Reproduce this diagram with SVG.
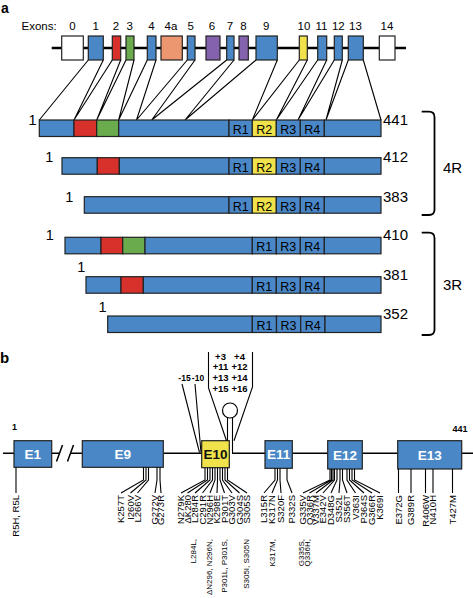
<svg xmlns="http://www.w3.org/2000/svg" width="473" height="598" viewBox="0 0 473 598">
<style>
text{font-family:"Liberation Sans",Arial,Helvetica,sans-serif;fill:#000}
.bx{stroke:#222;stroke-width:1.2}
.blue{fill:#4a87c7}.red{fill:#d8302a}.green{fill:#6aab4e}.yellow{fill:#f0e24a}.orange{fill:#ec9770}.purple{fill:#8562ad}.white{fill:#fff}
.ln{stroke:#000;stroke-width:1.1;fill:none}
.thick{stroke:#000;stroke-width:2.6;fill:none}
.main{stroke:#000;stroke-width:1.5;fill:none}
.ex{font-size:11.5px;text-anchor:middle}
.big{font-size:15px}
.one{font-size:14.5px;text-anchor:middle}
.rr{font-size:12.5px;text-anchor:middle}
.bl{font-size:13.5px;font-weight:bold;text-anchor:middle;fill:#fff}
.mut{font-size:9.5px;text-anchor:end}
.mut2{font-size:8px;text-anchor:end}
.pl{font-size:9.5px;font-weight:bold;text-anchor:middle}
.pan{font-size:14px;font-weight:bold}
</style>

<!-- ===== Panel a ===== -->
<text class="pan" x="1" y="13">a</text>
<g id="exon-labels">
<text x="21.5" y="30" style="font-size:11.5px">Exons:</text>
<text class="ex" x="72.5" y="30">0</text>
<text class="ex" x="95.8" y="30">1</text>
<text class="ex" x="116" y="30">2</text>
<text class="ex" x="129.8" y="30">3</text>
<text class="ex" x="151.5" y="30">4</text>
<text class="ex" x="171" y="30">4a</text>
<text class="ex" x="190.8" y="30">5</text>
<text class="ex" x="212" y="30">6</text>
<text class="ex" x="230" y="30">7</text>
<text class="ex" x="243.5" y="30">8</text>
<text class="ex" x="266.3" y="30">9</text>
<text class="ex" x="304" y="30">10</text>
<text class="ex" x="321.5" y="30">11</text>
<text class="ex" x="338.3" y="30">12</text>
<text class="ex" x="355.5" y="30">13</text>
<text class="ex" x="387" y="30">14</text>
</g>
<line class="thick" x1="51.7" y1="48" x2="406" y2="48"/>
<g id="exon-0"><rect class="bx white" x="61.7" y="36" width="21.6" height="24"/></g>
<g id="exon-1"><rect class="bx blue" x="88.3" y="36" width="15" height="24"/></g>
<g id="exon-2"><rect class="bx red" x="112.3" y="36" width="8.4" height="24"/></g>
<g id="exon-3"><rect class="bx green" x="126" y="36" width="8" height="24"/></g>
<g id="exon-4"><rect class="bx blue" x="147.3" y="36" width="8.7" height="24"/></g>
<g id="exon-4a"><rect class="bx orange" x="161" y="36" width="21.3" height="24"/></g>
<g id="exon-5"><rect class="bx blue" x="187.3" y="36" width="7.7" height="24"/></g>
<g id="exon-6"><rect class="bx purple" x="206" y="36" width="14" height="24"/></g>
<g id="exon-7"><rect class="bx blue" x="226.7" y="36" width="7.3" height="24"/></g>
<g id="exon-8"><rect class="bx purple" x="239" y="36" width="9.3" height="24"/></g>
<g id="exon-9"><rect class="bx blue" x="256" y="36" width="21.3" height="24"/></g>
<g id="exon-10"><rect class="bx yellow" x="299.3" y="36" width="8" height="24"/></g>
<g id="exon-11"><rect class="bx blue" x="317.7" y="36" width="9" height="24"/></g>
<g id="exon-12"><rect class="bx blue" x="334.3" y="36" width="8" height="24"/></g>
<g id="exon-13"><rect class="bx blue" x="348.3" y="36" width="15" height="24"/></g>
<g id="exon-14"><rect class="bx white" x="379.3" y="36" width="15.7" height="24"/></g>

<g id="exon-connectors">
<path class="ln" d="M88.3,60L39.3,120M103.3,60L74,120M112.3,60L74,120M120.7,60L96.7,120M126,60L96.7,120M134,60L118.7,120M147.3,60L118.7,120M156,60L136.5,120M187.3,60L136.5,120M195,60L151.7,120M226.7,60L151.7,120M234,60L185,120M256,60L185,120M277.3,60L252.3,120M299.3,60L252.3,120M307.3,60L276.3,120M317.7,60L276.3,120M326.7,60L298,120M334.3,60L298,120M342.3,60L326,120M348.3,60L326,120M363.3,60L381,120"/>
</g>

<g id="isoform-441">
<rect class="bx blue" x="39.3" y="120" width="34.7" height="16.5"/>
<rect class="bx red" x="74" y="120" width="22.7" height="16.5"/>
<rect class="bx green" x="96.7" y="120" width="22" height="16.5"/>
<rect class="bx blue" x="118.7" y="120" width="110.3" height="16.5"/>
<rect class="bx blue" x="229" y="120" width="23.3" height="16.5"/>
<rect class="bx yellow" x="252.3" y="120" width="24" height="16.5"/>
<rect class="bx blue" x="276.3" y="120" width="24" height="16.5"/>
<rect class="bx blue" x="300.3" y="120" width="24" height="16.5"/>
<rect class="bx blue" x="324.3" y="120" width="56.7" height="16.5"/>
<text class="rr" x="240.7" y="134">R1</text><text class="rr" x="264.3" y="134">R2</text><text class="rr" x="288.3" y="134">R3</text><text class="rr" x="312.3" y="134">R4</text>
<text class="one" x="32.5" y="125">1</text>
<text class="big" x="383" y="125">441</text>
</g>

<g id="isoform-412">
<rect class="bx blue" x="62" y="157.7" width="35.3" height="16.5"/>
<rect class="bx red" x="97.3" y="157.7" width="22" height="16.5"/>
<rect class="bx blue" x="119.3" y="157.7" width="109.7" height="16.5"/>
<rect class="bx blue" x="229" y="157.7" width="23.3" height="16.5"/>
<rect class="bx yellow" x="252.3" y="157.7" width="24" height="16.5"/>
<rect class="bx blue" x="276.3" y="157.7" width="24" height="16.5"/>
<rect class="bx blue" x="300.3" y="157.7" width="24" height="16.5"/>
<rect class="bx blue" x="324.3" y="157.7" width="56.7" height="16.5"/>
<text class="rr" x="240.7" y="171.7">R1</text><text class="rr" x="264.3" y="171.7">R2</text><text class="rr" x="288.3" y="171.7">R3</text><text class="rr" x="312.3" y="171.7">R4</text>
<text class="one" x="49.2" y="161.7">1</text>
<text class="big" x="383" y="161.7">412</text>
</g>

<g id="isoform-383">
<rect class="bx blue" x="84.3" y="196.7" width="144.7" height="16.5"/>
<rect class="bx blue" x="229" y="196.7" width="23.3" height="16.5"/>
<rect class="bx yellow" x="252.3" y="196.7" width="24" height="16.5"/>
<rect class="bx blue" x="276.3" y="196.7" width="24" height="16.5"/>
<rect class="bx blue" x="300.3" y="196.7" width="24" height="16.5"/>
<rect class="bx blue" x="324.3" y="196.7" width="56.7" height="16.5"/>
<text class="rr" x="240.7" y="210.7">R1</text><text class="rr" x="264.3" y="210.7">R2</text><text class="rr" x="288.3" y="210.7">R3</text><text class="rr" x="312.3" y="210.7">R4</text>
<text class="one" x="69.2" y="201.7">1</text>
<text class="big" x="383" y="201.7">383</text>
</g>

<g id="bracket-4R">
<path d="M421.7,111.7H429Q434.5,111.7 434.5,117.2V209.5Q434.5,215 429,215H421.7" fill="none" stroke="#000" stroke-width="1.8"/>
<text class="big" x="443" y="173">4R</text>
</g>

<g id="isoform-410">
<rect class="bx blue" x="65" y="237.3" width="36" height="16.5"/>
<rect class="bx red" x="101" y="237.3" width="21.7" height="16.5"/>
<rect class="bx green" x="122.7" y="237.3" width="22.3" height="16.5"/>
<rect class="bx blue" x="145" y="237.3" width="107.3" height="16.5"/>
<rect class="bx blue" x="252.3" y="237.3" width="24" height="16.5"/>
<rect class="bx blue" x="276.3" y="237.3" width="24" height="16.5"/>
<rect class="bx blue" x="300.3" y="237.3" width="24" height="16.5"/>
<rect class="bx blue" x="324.3" y="237.3" width="56.7" height="16.5"/>
<text class="rr" x="264.3" y="251.3">R1</text><text class="rr" x="288.3" y="251.3">R3</text><text class="rr" x="312.3" y="251.3">R4</text>
<text class="one" x="49.7" y="240">1</text>
<text class="big" x="383" y="240">410</text>
</g>

<g id="isoform-381">
<rect class="bx blue" x="86" y="276.7" width="35" height="16.5"/>
<rect class="bx red" x="121" y="276.7" width="22.3" height="16.5"/>
<rect class="bx blue" x="143.3" y="276.7" width="109" height="16.5"/>
<rect class="bx blue" x="252.3" y="276.7" width="24" height="16.5"/>
<rect class="bx blue" x="276.3" y="276.7" width="24" height="16.5"/>
<rect class="bx blue" x="300.3" y="276.7" width="24" height="16.5"/>
<rect class="bx blue" x="324.3" y="276.7" width="56.7" height="16.5"/>
<text class="rr" x="264.3" y="290.7">R1</text><text class="rr" x="288.3" y="290.7">R3</text><text class="rr" x="312.3" y="290.7">R4</text>
<text class="one" x="81.2" y="271.7">1</text>
<text class="big" x="383" y="280">381</text>
</g>

<g id="isoform-352">
<rect class="bx blue" x="107.7" y="316" width="144.6" height="16.5"/>
<rect class="bx blue" x="252.3" y="316" width="24.2" height="16.5"/>
<rect class="bx blue" x="276.5" y="316" width="24.2" height="16.5"/>
<rect class="bx blue" x="300.7" y="316" width="24.3" height="16.5"/>
<rect class="bx blue" x="325" y="316" width="56" height="16.5"/>
<text class="rr" x="264.4" y="330">R1</text><text class="rr" x="288.6" y="330">R3</text><text class="rr" x="312.8" y="330">R4</text>
<text class="one" x="102.5" y="311.7">1</text>
<text class="big" x="383" y="319">352</text>
</g>

<g id="bracket-3R">
<path d="M421.7,232.7H429Q434.5,232.7 434.5,238.2V329.5Q434.5,335 429,335H421.7" fill="none" stroke="#000" stroke-width="1.8"/>
<text class="big" x="443" y="290">3R</text>
</g>

<!-- ===== Panel b ===== -->
<text class="pan" x="0" y="363" style="font-size:15px">b</text>

<g id="backbone">
<path class="main" d="M3,453.3H14M51.7,453.3H59.5M70.5,453.3H82.3M163.3,453.3H201.7M232,453.3H265M292.3,453.3H327.7M362.3,453.3H397.7M461.7,453.3H473"/>
<path class="main" d="M56.5,461.5L62.5,445M67.5,461.5L73.5,445"/>
</g>

<g id="E1"><rect class="bx blue" x="14" y="440.7" width="37.7" height="26.6"/><text class="bl" x="32.8" y="458.5">E1</text>
<text x="14.5" y="430" style="font-size:9px;font-weight:bold;text-anchor:middle">1</text></g>
<g id="E9"><rect class="bx blue" x="82.3" y="440.7" width="81" height="26.6"/><text class="bl" x="122.8" y="458.5">E9</text></g>
<g id="E10"><rect class="bx yellow" x="201.7" y="440.7" width="27.6" height="27"/><text class="bl" x="215.5" y="458.8" style="fill:#111">E10</text></g>
<g id="E11"><rect class="bx blue" x="265" y="440.7" width="27.3" height="27.6"/><text class="bl" x="278.7" y="459">E11</text></g>
<g id="E12"><rect class="bx blue" x="327.7" y="440.7" width="34.6" height="28.3"/><text class="bl" x="345" y="459.5">E12</text></g>
<g id="E13"><rect class="bx blue" x="397.7" y="440.7" width="64" height="28.3"/><text class="bl" x="429.7" y="459.5">E13</text>
<text x="460" y="432" style="font-size:9px;font-weight:bold;text-anchor:middle">441</text></g>

<g id="intron10">
<circle cx="230" cy="410.5" r="7.5" fill="#fff" stroke="#000" stroke-width="1.2"/>
<path class="ln" d="M227.5,417.5V440.7M232.5,417.5V453.3"/>
<path class="ln" d="M208.5,352V388L226.5,440.7M252.5,352V387L234,440.7"/>
<path class="ln" d="M182,384L199.5,452.5M195,384L201,452.5"/>
<text class="pl" x="184.5" y="380.5" style="font-size:8.5px">-15</text>
<text class="pl" x="198" y="380.5" style="font-size:8.5px">-10</text>
<text class="pl" x="220.5" y="359.5">+3</text><text class="pl" x="239.5" y="359.5">+4</text>
<text class="pl" x="220.5" y="370.3">+11</text><text class="pl" x="239.5" y="370.3">+12</text>
<text class="pl" x="220.5" y="381">+13</text><text class="pl" x="239.5" y="381">+14</text>
<text class="pl" x="220.5" y="391.8">+15</text><text class="pl" x="239.5" y="391.8">+16</text>
</g>

<g id="mutation-leaders">
<path class="ln" d="M16,467.3V493"/>
<path class="ln" d="M143.5,467.3V480L121,493M146,467.3V480L130.5,493M148.5,467.3V480L137.5,493M157,467.3V480L155,493M160,467.3V480L161,493"/>
<path class="ln" d="M205,467.7V480L181,493M207.5,467.7V480L187.5,493M210,467.7V480L195,493M212.5,467.7V480L202.5,493M215,467.7V480L210,493M217.5,467.7V480L217,493M220,467.7V480L224.5,493M222.5,467.7V480L232,493M225,467.7V480L239.5,493M227.5,467.7V480L247,493"/>
<path class="ln" d="M275,468.3V480L264,493M277.5,468.3V480L272,493M280,468.3V480L281,493M287,468.3V480L292,493"/>
<path class="ln" d="M330,469V480L303,493M331.5,469V480L309.5,493M333,469V480L316,493M334.5,469V480L323,493M337,469V480L331,493M340,469V480L339,493M342.5,469V480L347,493M347,469V480L355.5,493M349.5,469V480L364,493M352,469V480L372,493M354.5,469V480L380,493"/>
<path class="ln" d="M398.5,469V493M411,469V493M425.5,469V493M433,469V493M452.5,469V493"/>
</g>

<g id="mutation-labels">
<text class="mut" transform="translate(16,495) rotate(-90)" dy="0.35em">R5H, R5L</text>
<text class="mut" transform="translate(121,495) rotate(-90)" dy="0.35em">K257T</text>
<text class="mut" transform="translate(130.5,495) rotate(-90)" dy="0.35em">I260V</text>
<text class="mut" transform="translate(137.5,495) rotate(-90)" dy="0.35em">L266V</text>
<text class="mut" transform="translate(155,495) rotate(-90)" dy="0.35em">G272V</text>
<text class="mut" transform="translate(161,495) rotate(-90)" dy="0.35em">G273R</text>
<text class="mut" transform="translate(181,495) rotate(-90)" dy="0.35em">N279K</text>
<text class="mut" transform="translate(187.5,495) rotate(-90)" dy="0.35em">ΔK280</text>
<text class="mut" transform="translate(195,495) rotate(-90)" dy="0.35em">L284R</text>
<text class="mut" transform="translate(202.5,495) rotate(-90)" dy="0.35em">C291R</text>
<text class="mut" transform="translate(210,495) rotate(-90)" dy="0.35em">N296H</text>
<text class="mut" transform="translate(217,495) rotate(-90)" dy="0.35em">K298E</text>
<text class="mut" transform="translate(224.5,495) rotate(-90)" dy="0.35em">P301T</text>
<text class="mut" transform="translate(232,495) rotate(-90)" dy="0.35em">G303V</text>
<text class="mut" transform="translate(239.5,495) rotate(-90)" dy="0.35em">G304S</text>
<text class="mut" transform="translate(247,495) rotate(-90)" dy="0.35em">S305S</text>
<text class="mut" transform="translate(264,495) rotate(-90)" dy="0.35em">L315R</text>
<text class="mut" transform="translate(272,495) rotate(-90)" dy="0.35em">K317N</text>
<text class="mut" transform="translate(281,495) rotate(-90)" dy="0.35em">S320F</text>
<text class="mut" transform="translate(292,495) rotate(-90)" dy="0.35em">P332S</text>
<text class="mut" transform="translate(303,495) rotate(-90)" dy="0.35em">G335V</text>
<text class="mut" transform="translate(309.5,495) rotate(-90)" dy="0.35em">Q336R</text>
<text class="mut" transform="translate(316,495) rotate(-90)" dy="0.35em">V337M</text>
<text class="mut" transform="translate(323,495) rotate(-90)" dy="0.35em">E342V</text>
<text class="mut" transform="translate(331,495) rotate(-90)" dy="0.35em">D348G</text>
<text class="mut" transform="translate(339,495) rotate(-90)" dy="0.35em">S352L</text>
<text class="mut" transform="translate(347,495) rotate(-90)" dy="0.35em">S356T</text>
<text class="mut" transform="translate(355.5,495) rotate(-90)" dy="0.35em">V363I</text>
<text class="mut" transform="translate(364,495) rotate(-90)" dy="0.35em">P364S</text>
<text class="mut" transform="translate(372,495) rotate(-90)" dy="0.35em">G366R</text>
<text class="mut" transform="translate(380,495) rotate(-90)" dy="0.35em">K369I</text>
<text class="mut" transform="translate(398.5,495) rotate(-90)" dy="0.35em">E372G</text>
<text class="mut" transform="translate(411,495) rotate(-90)" dy="0.35em">G389R</text>
<text class="mut" transform="translate(425.5,495) rotate(-90)" dy="0.35em">R406W</text>
<text class="mut" transform="translate(433,495) rotate(-90)" dy="0.35em">N410H</text>
<text class="mut" transform="translate(452.5,495) rotate(-90)" dy="0.35em">T427M</text>
<text class="mut2" transform="translate(193,539) rotate(-90)" dy="0.35em">L284L,</text>
<text class="mut2" transform="translate(209.5,539) rotate(-90)" dy="0.35em">ΔN296, N296N,</text>
<text class="mut2" transform="translate(224.5,539) rotate(-90)" dy="0.35em">P301L, P301S,</text>
<text class="mut2" transform="translate(246,539) rotate(-90)" dy="0.35em">S305I, S305N</text>
<text class="mut2" transform="translate(272,539) rotate(-90)" dy="0.35em">K317M,</text>
<text class="mut2" transform="translate(301,539) rotate(-90)" dy="0.35em">G335S,</text>
<text class="mut2" transform="translate(307.5,539) rotate(-90)" dy="0.35em">Q336H,</text>
</g>
</svg>
